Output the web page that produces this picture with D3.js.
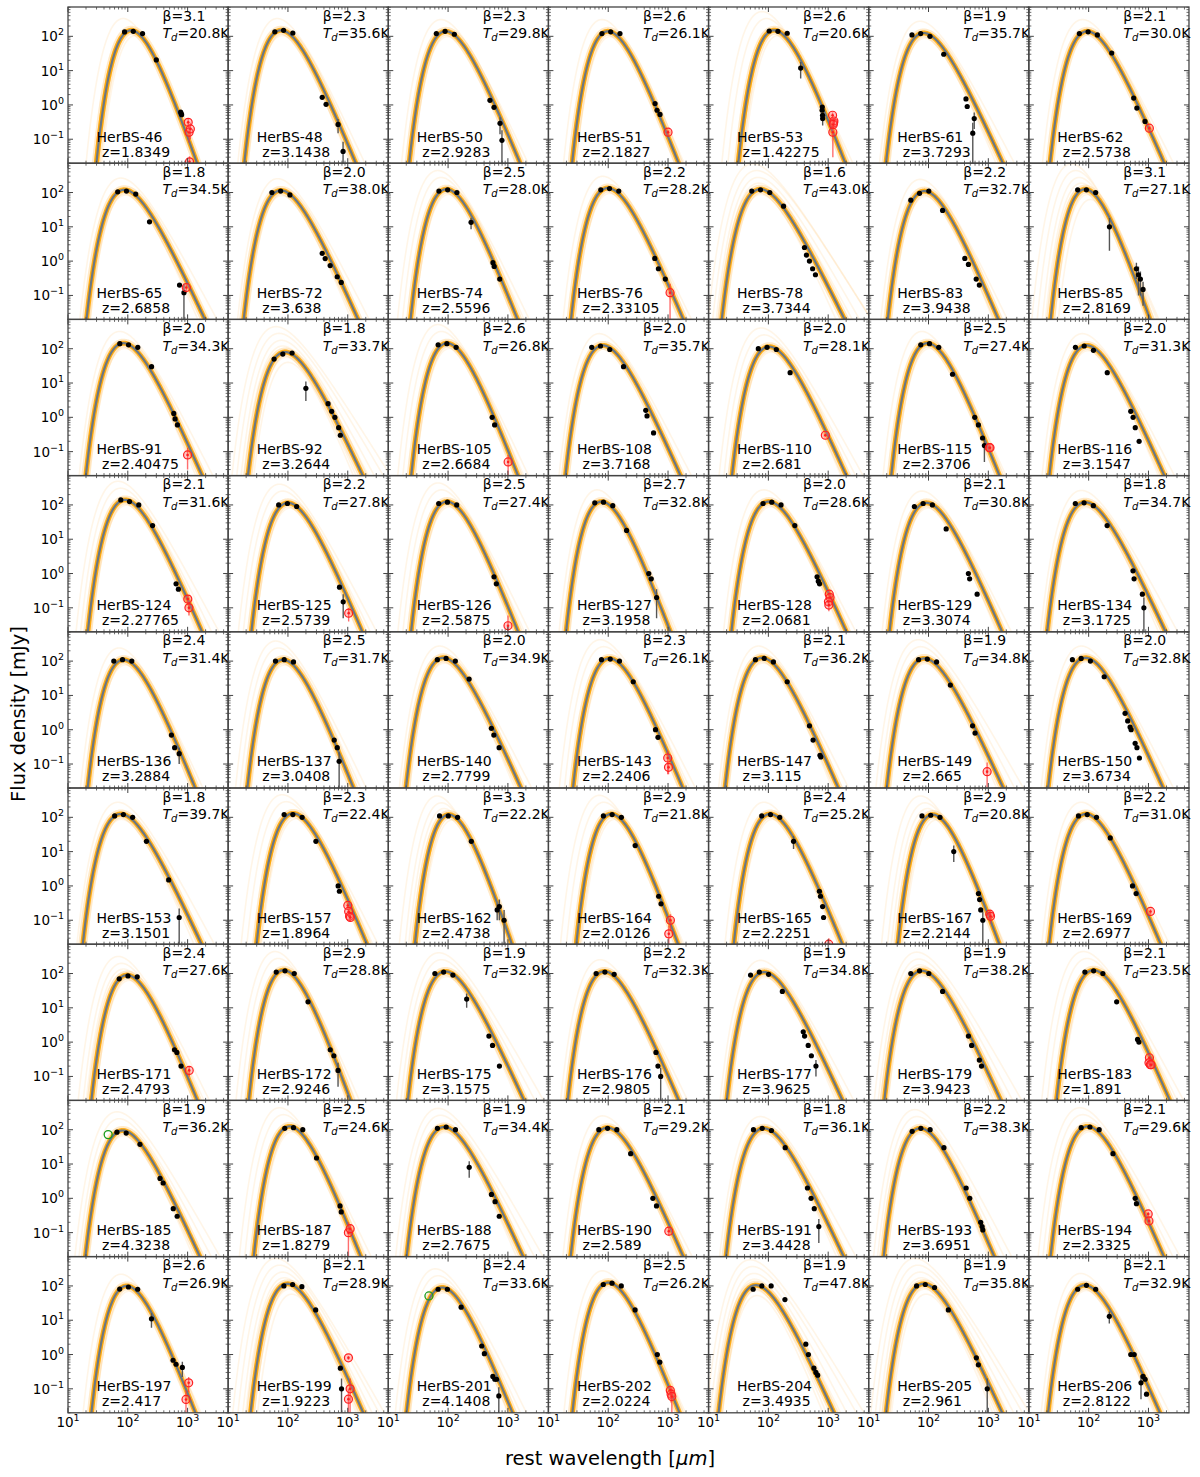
<!DOCTYPE html>
<html>
<head>
<meta charset="utf-8">
<style>
  body { margin: 0; background: #fff; }
  svg text { font-family: "DejaVu Sans", sans-serif; fill: #000; }
</style>
</head>
<body>
<svg id="fig" width="1200" height="1477"></svg>
<script src="https://cdn.jsdelivr.net/npm/d3@7/dist/d3.min.js"></script>
<script>
// ---- panel parameters ----
const names = ["HerBS-46","HerBS-48","HerBS-50","HerBS-51","HerBS-53","HerBS-61","HerBS-62",
  "HerBS-65","HerBS-72","HerBS-74","HerBS-76","HerBS-78","HerBS-83","HerBS-85",
  "HerBS-91","HerBS-92","HerBS-105","HerBS-108","HerBS-110","HerBS-115","HerBS-116",
  "HerBS-124","HerBS-125","HerBS-126","HerBS-127","HerBS-128","HerBS-129","HerBS-134",
  "HerBS-136","HerBS-137","HerBS-140","HerBS-143","HerBS-147","HerBS-149","HerBS-150",
  "HerBS-153","HerBS-157","HerBS-162","HerBS-164","HerBS-165","HerBS-167","HerBS-169",
  "HerBS-171","HerBS-172","HerBS-175","HerBS-176","HerBS-177","HerBS-179","HerBS-183",
  "HerBS-185","HerBS-187","HerBS-188","HerBS-190","HerBS-191","HerBS-193","HerBS-194",
  "HerBS-197","HerBS-199","HerBS-201","HerBS-202","HerBS-204","HerBS-205","HerBS-206"];
const redshifts = ["1.8349","3.1438","2.9283","2.1827","1.42275","3.7293","2.5738",
  "2.6858","3.638","2.5596","2.33105","3.7344","3.9438","2.8169",
  "2.40475","3.2644","2.6684","3.7168","2.681","2.3706","3.1547",
  "2.27765","2.5739","2.5875","3.1958","2.0681","3.3074","3.1725",
  "3.2884","3.0408","2.7799","2.2406","3.115","2.665","3.6734",
  "3.1501","1.8964","2.4738","2.0126","2.2251","2.2144","2.6977",
  "2.4793","2.9246","3.1575","2.9805","3.9625","3.9423","1.891",
  "4.3238","1.8279","2.7675","2.589","3.4428","3.6951","2.3325",
  "2.417","1.9223","4.1408","2.0224","3.4935","2.961","2.8122"];
const betas = [3.1,2.3,2.3,2.6,2.6,1.9,2.1, 1.8,2.0,2.5,2.2,1.6,2.2,3.1,
  2.0,1.8,2.6,2.0,2.0,2.5,2.0, 2.1,2.2,2.5,2.7,2.0,2.1,1.8,
  2.4,2.5,2.0,2.3,2.1,1.9,2.0, 1.8,2.3,3.3,2.9,2.4,2.9,2.2,
  2.4,2.9,1.9,2.2,1.9,1.9,2.1, 1.9,2.5,1.9,2.1,1.8,2.2,2.1,
  2.6,2.1,2.4,2.5,1.9,1.9,2.1];
const temps = [20.8,35.6,29.8,26.1,20.6,35.7,30.0, 34.5,38.0,28.0,28.2,43.0,32.7,27.1,
  34.3,33.7,26.8,35.7,28.1,27.4,31.3, 31.6,27.8,27.4,32.8,28.6,30.8,34.7,
  31.4,31.7,34.9,26.1,36.2,34.8,32.8, 39.7,22.4,22.2,21.8,25.2,20.8,31.0,
  27.6,28.8,32.9,32.3,34.8,38.2,23.5, 36.2,24.6,34.4,29.2,36.1,38.3,29.6,
  26.9,28.9,33.6,26.2,47.8,35.8,32.9];
// peak flux density of the best-fit curve [mJy]
const peaks = [150,150,140,140,150,125,140, 120,115,125,135,125,110,125,
  145,80,145,125,115,145,125, 140,115,125,125,125,115,120,
  110,110,125,120,125,120,125, 125,130,120,125,125,120,125,
  90,125,115,115,110,120,125, 95,125,120,115,110,110,125,
  100,115,90,125,105,115,105];
// number of faint, widely spread posterior curves to show
const spreads = [2,2,2,2,3,2,1, 2,2,3,2,5,2,6, 2,6,3,1,3,2,2,
  3,3,3,2,2,2,2, 2,3,2,3,2,3,1, 2,3,4,3,2,4,2,
  4,3,3,2,2,4,3, 3,3,3,2,2,3,3, 2,6,3,2,6,6,2];

// data points: [observed wavelength um, flux mJy, error mJy]
const blackPts = [
  [[250,134,0],[350,140,0],[500,120,0],[850,20.5,0],[2170,0.62,0],[2210,0.56,0],[2250,0.52,0]],
  [[250,135,0],[350,150,0],[500,125,0],[1550,1.66,0],[1797,1.04,0],[2854,0.27,0.12],[3460,0.044,0.04]],
  [[250,120,0],[350,140,0],[500,115,0],[1968,1.36,0],[2302,0.85,0],[2900,0.29,0.15],[3125,0.093,0.09]],
  [[250,120,0],[350,135,0],[500,120,0],[1932,1.1,0],[2085,0.7,0],[2338,0.53,0]],
  [[250,143,0],[350,140,0],[500,123,0],[840,11.9,6],[1930,0.87,0],[1920,0.7,0],[1950,0.5,0],[1960,0.4,0.15]],
  [[250,110,0],[350,120,0],[500,100,0],[850,30,0],[2000,1.5,0],[2100,0.9,0],[2750,0.4,0.2],[2600,0.15,0.15]],
  [[250,120,0],[350,135,0],[500,110,0],[869,32.6,0],[2025,1.58,0],[2285,0.81,0],[3130,0.33,0]],

  [[250,105,0],[350,110,0],[500,90,0],[850,14,0],[2700,0.2,0],[3200,0.12,0.1]],
  [[250,100,0],[350,110,0],[500,85,0],[1735,1.69,0],[1944,1.19,0],[2356,0.74,0],[3090,0.35,0],[3613,0.24,0]],
  [[250,110,0],[350,120,0],[500,100,0],[862,13.5,5],[2000,0.9,0],[2100,0.7,0],[2600,0.3,0]],
  [[250,120,0],[350,130,0],[500,110,0],[2000,1.2,0],[2300,0.6,0],[3000,0.3,0]],
  [[250,110,0],[350,120,0],[500,100,0],[850,40,0],[1900,2.5,0],[2050,1.5,0],[2300,1,0],[2600,0.6,0],[2900,0.4,0]],
  [[250,60,0],[350,95,0],[500,110,0],[850,30,0],[2000,1.2,0],[2300,0.8,0],[3100,0.3,0],[3500,0.2,0]],
  [[250,120,0],[350,120,0],[500,100,0],[850,10,8],[2400,0.6,0.3],[2600,0.4,0.3],[2800,0.3,0.2],[3100,0.15,0.1]],

  [[250,140,0],[350,130,0],[500,110,0],[850,30,0],[2000,1.3,0],[2100,0.9,0],[2300,0.6,0]],
  [[250,50,0],[350,70,0],[500,75,0],[850,7,4],[2000,2.5,0],[2300,1.5,0],[2600,1,0],[3000,0.5,0],[3200,0.3,0]],
  [[250,130,0],[350,140,0],[500,110,0],[2000,1,0],[2200,0.6,0]],
  [[250,110,0],[350,120,0],[500,95,0],[850,30,0],[2000,1.6,0],[2100,1.1,0],[2700,0.35,0]],
  [[250,100,0],[350,110,0],[500,95,0],[850,20,0]],
  [[250,130,0],[350,140,0],[500,110,0],[850,18,0],[2000,1,0],[2300,0.6,0],[2700,0.25,0],[2900,0.15,0.1]],
  [[250,110,0],[350,120,0],[500,90,0],[850,20,0],[2100,1.5,0],[2300,1,0],[2500,0.5,0],[2900,0.2,0]],

  [[250,140,0],[350,125,0],[500,100,0],[850,25,0],[2100,0.5,0],[2300,0.35,0]],
  [[250,100,0],[350,110,0],[500,90,0],[2600,0.4,0],[3000,0.15,0.1]],
  [[250,110,0],[350,120,0],[500,100,0],[2100,0.8,0],[2300,0.5,0]],
  [[250,115,0],[350,120,0],[500,95,0],[850,18,0],[2000,1.0,0],[2200,0.7,0],[2700,0.2,0.15]],
  [[250,110,0],[350,120,0],[500,100,0],[850,25,0],[2000,0.8,0],[2100,0.6,0],[2200,0.5,0]],
  [[250,90,0],[350,110,0],[500,100,0],[850,20,0],[2000,1.0,0],[2100,0.7,0],[2800,0.25,0]],
  [[250,110,0],[350,115,0],[500,95,0],[850,25,0],[2300,1.2,0],[2400,0.7,0],[3300,0.25,0],[3500,0.1,0.1]],

  [[250,100,0],[350,110,0],[500,100,0],[2300,0.7,0],[2600,0.3,0],[3100,0.2,0.1]],
  [[250,100,0],[350,110,0],[500,95,0],[2400,0.5,0],[2700,0.3,0],[2900,0.12,0.1]],
  [[250,110,0],[350,120,0],[500,100,0],[850,30,0],[2000,1.1,0],[2200,0.7,0],[2700,0.3,0]],
  [[250,110,0],[350,115,0],[500,100,0],[850,25,0],[2000,1,0],[2200,0.6,0]],
  [[250,110,0],[350,120,0],[500,95,0],[850,25,0],[2000,1.3,0],[2300,0.5,0],[3000,0.18,0],[3100,0.16,0]],
  [[250,110,0],[350,115,0],[500,95,0],[850,20,0],[2000,1.3,0],[2200,0.8,0]],
  [[250,110,0],[350,120,0],[500,100,0],[850,35,0],[1900,3,0],[2100,1.8,0],[2300,1.2,0],[2400,1,0],[2800,0.4,0],[3000,0.3,0],[3300,0.15,0]],

  [[250,110,0],[350,120,0],[500,100,0],[850,20,0],[2000,1.5,0],[3000,0.12,0.1]],
  [[250,120,0],[350,120,0],[500,100,0],[850,20,0],[2000,1.0,0],[2100,0.7,0]],
  [[250,110,0],[350,110,0],[500,100,0],[850,20,0],[2300,0.2,0.1],[2500,0.25,0.15],[3000,0.1,0.1]],
  [[250,110,0],[350,120,0],[500,100,0],[850,15,0],[2100,0.5,0],[2300,0.3,0]],
  [[250,110,0],[350,120,0],[500,100,0],[850,20,8],[2300,0.7,0],[2400,0.5,0],[2600,0.25,0],[2700,0.12,0]],
  [[250,110,0],[350,115,0],[500,100,0],[850,10,5],[2200,0.6,0],[2300,0.4,0],[2400,0.2,0],[2600,0.1,0.08]],
  [[250,110,0],[350,120,0],[500,100,0],[850,25,0],[2000,1,0],[2300,0.6,0]],

  [[250,70,0],[350,85,0],[500,80,0],[2100,0.6,0],[2300,0.5,0],[2700,0.2,0]],
  [[250,110,0],[350,120,0],[500,100,0],[850,15,0],[2000,0.6,0],[2300,0.4,0],[2700,0.15,0.1]],
  [[250,100,0],[350,110,0],[500,90,0],[850,18,8],[2000,1.5,0],[2300,0.8,0],[3000,0.2,0]],
  [[250,100,0],[350,110,0],[500,95,0],[2500,0.5,0],[2700,0.2,0],[3000,0.1,0.08]],
  [[250,90,0],[350,110,0],[500,95,0],[850,30,0],[1900,2,0],[2000,1.5,0],[2300,0.8,0],[2600,0.4,0],[3100,0.2,0.1]],
  [[250,100,0],[350,120,0],[500,100,0],[850,30,0],[2300,1.5,0],[2600,0.8,0],[3500,0.3,0],[3800,0.2,0]],
  [[250,110,0],[350,120,0],[500,100,0],[850,15,0],[1900,1.2,0],[2000,1,0]],

  [[350,85,0],[500,80,0],[850,37.5,0],[1840,3.8,0],[2075,2.8,0],[3060,0.5,0],[3560,0.3,0]],
  [[250,110,0],[350,115,0],[500,100,0],[850,15,0],[2100,0.6,0],[2200,0.4,0]],
  [[250,110,0],[350,120,0],[500,100,0],[850,8,4],[2000,1.3,0],[2300,0.8,0],[2700,0.3,0]],
  [[250,100,0],[350,110,0],[500,100,0],[850,20,0],[2000,1,0],[2300,0.6,0]],
  [[250,100,0],[350,110,0],[500,95,0],[850,30,0],[2000,2,0],[2300,1,0],[2600,0.5,0],[3100,0.15,0.1]],
  [[250,90,0],[350,110,0],[500,100,0],[850,30,0],[2000,2,0],[2300,1,0],[3500,0.2,0],[3700,0.15,0],[3800,0.12,0]],
  [[250,115,0],[350,120,0],[500,100,0],[850,20,0],[2000,1,0],[2100,0.7,0]],

  [[250,81,0],[350,93,0],[500,80,0],[850,11,5],[1950,0.68,0],[2190,0.52,0],[2790,0.42,0.2]],
  [[250,100,0],[350,110,0],[500,95,0],[850,20,0],[2200,0.4,0],[2300,0.1,0.1]],
  [[350,80,0],[500,80,0],[850,24,0],[1875,1.77,0],[2077,1.06,0],[2880,0.23,0],[3110,0.19,0],[3315,0.19,0],[3625,0.062,0.05]],
  [[250,110,0],[350,120,0],[500,100,0],[850,20,0],[2000,1,0],[2200,0.6,0]],
  [[250,80,0],[350,100,0],[500,100,0],[850,40,0],[1900,2,0],[2100,1,0],[2600,0.4,0],[2800,0.3,0],[3000,0.25,0]],
  [[250,100,0],[350,110,0],[500,90,0],[850,20,0],[2500,0.8,0],[2700,0.5,0],[3800,0.1,0.1]],
  [[250,80,0],[350,104,0],[500,80,0],[845,13,5],[1930,1.0,0],[2200,1.0,0],[3100,0.23,0],[3350,0.19,0],[2860,0.15,0.1],[3540,0.07,0]]
];
const redPts = [
  [[2900,0.31,0.1],[3000,0.16,0.08],[3150,0.2,0.1],[3050,0.022,0.01]],
  [],[],[[3183,0.16,0.03]],
  [[2870,0.5,0.1],[2990,0.3,0.08],[3020,0.34,0.08],[2950,0.27,0.07],[2900,0.16,0.13]],
  [],[[3700,0.21,0.03]],
  [[3500,0.17,0.05]],[],[],[[3600,0.12,0.1]],[],[],[],
  [[3400,0.08,0.05]],[],[[3700,0.05,0.03]],[],[[3300,0.3,0.03]],[[3500,0.13,0.03],[3600,0.13,0.03]],[],
  [[3300,0.18,0.05],[3450,0.1,0.04]],[[3700,0.07,0.03]],[[3600,0.03,0.03]],[],
  [[3200,0.25,0.05],[3300,0.2,0.05],[3100,0.15,0.04],[3150,0.12,0.04]],[],[],
  [],[],[],[[3200,0.15,0.1],[3300,0.08,0.03]],[],[[3500,0.06,0.05]],[],
  [],[[2900,0.27,0.05],[3000,0.18,0.04],[3100,0.13,0.03],[3200,0.12,0.03]],[],
  [[3300,0.1,0.05],[3100,0.04,0.03]],[[3300,0.02,0.01]],[[3400,0.15,0.05],[3500,0.13,0.05]],[[4000,0.18,0.03]],
  [[3700,0.15,0.05]],[],[],[],[],[],[[3000,0.35,0.05],[2950,0.25,0.05],[3100,0.22,0.05],[3200,0.22,0.05]],
  [],[[2900,0.1,0.1],[3100,0.13,0.04]],[],[[3700,0.11,0.03]],[],[],[[3300,0.35,0.05],[3400,0.22,0.05]],
  [[3560,0.15,0.07],[3210,0.049,0.04]],[[3000,0.8,0.1],[3200,0.1,0.1],[3000,0.05,0.05]],[],
  [[3300,0.09,0.03],[3400,0.07,0.03],[3500,0.06,0.05]],[],[],[]
];
// open green circles: [observed wavelength um, flux mJy], keyed by panel index
const greenPts = { 49: [[250,72]], 58: [[246,51]] };

const xTicks = [10, 100, 1000];
const yTicks = [0.1, 1, 10, 100];
// faint posterior draws: [dT K, d beta, flux scale]
const wideSamples = [[10,-0.5,2.2],[-4,0.4,0.7],[18,-0.8,3.5],[6,-0.3,1.5],[28,-1.0,5.5],[-7,0.6,0.5]];
const bandSamples = [[-1.2,0.08],[1.2,-0.08],[-0.6,0.04],[0.6,-0.04]];

// ---- layout ----
const ncol = 7, nrow = 9;
const padL = 68, padT = 7, pw = 160.14, ph = 156.2;
const x = d3.scaleLog().domain([10, 4760]).range([0, pw]);
const y = d3.scaleLog().domain([0.02, 716]).range([ph, 0]);

const svg = d3.select("#fig");
const grid = d3.range(0, 321).map(i => 10 ** (1 + i * 2.7 / 320));

function sed(lam, T, b) {
  return Math.pow(lam, -(3 + b)) / Math.expm1(14388 / (lam * T));
}
function curve(T, b, peak) {
  const vals = grid.map(l => sed(l, T, b));
  const m = d3.max(vals);
  return grid.map((l, i) => [l, Math.max(1e-8, vals[i] / m * peak)]);
}
const line = d3.line().x(d => x(d[0])).y(d => y(d[1]));

const defs = svg.append("defs");
defs.append("clipPath").attr("id", "pclip")
  .append("rect").attr("width", pw).attr("height", ph);

function supTick(sel, v) {
  const e = Math.round(Math.log10(v));
  sel.text("10");
  sel.append("tspan").attr("dy", -6).attr("font-size", 9.5)
    .text(e < 0 ? "\u2212" + (-e) : e);
}

names.forEach((nm, i) => {
  const c = i % ncol, r = Math.floor(i / ncol);
  const g = svg.append("g").attr("transform", `translate(${padL + c * pw},${padT + r * ph})`);
  const T = temps[i], b = betas[i], pk = peaks[i];
  const zz = 1 + (+redshifts[i]);
  const plot = g.append("g").attr("clip-path", "url(#pclip)");

  // faint spread of posterior curves
  wideSamples.slice(0, spreads[i]).forEach(s => {
    plot.append("path").datum(curve(T + s[0], Math.max(0.8, b + s[1]), pk * s[2]))
      .attr("d", line).attr("fill", "none")
      .attr("stroke", "#ffb347").attr("stroke-opacity", 0.13).attr("stroke-width", 1.6);
  });
  // dense band
  const best = curve(T, b, pk);
  plot.append("path").datum(best).attr("d", line).attr("fill", "none")
    .attr("stroke", "#ffc266").attr("stroke-opacity", 0.35).attr("stroke-width", 9);
  bandSamples.forEach(s => {
    plot.append("path").datum(curve(T + s[0], b + s[1], pk)).attr("d", line).attr("fill", "none")
      .attr("stroke", "#ffa500").attr("stroke-opacity", 0.45).attr("stroke-width", 2.5);
  });
  plot.append("path").datum(best).attr("d", line).attr("fill", "none")
    .attr("stroke", "#ffa500").attr("stroke-opacity", 0.85).attr("stroke-width", 5);
  plot.append("path").datum(best).attr("d", line).attr("fill", "none")
    .attr("stroke", "#6a7784").attr("stroke-width", 2.2);

  // error bars + points
  const errY = (f, e) => [y(Math.max(0.005, f - e)), y(f + e)];
  blackPts[i].forEach(p => {
    const px = x(p[0] / zz);
    if (p[2] > 0) {
      const [y1, y2] = errY(p[1], p[2]);
      plot.append("line").attr("x1", px).attr("x2", px).attr("y1", y1).attr("y2", y2)
        .attr("stroke", "#555").attr("stroke-width", 1.4);
    }
  });
  redPts[i].forEach(p => {
    const px = x(p[0] / zz);
    if (p[2] > 0) {
      const [y1, y2] = errY(p[1], p[2]);
      plot.append("line").attr("x1", px).attr("x2", px).attr("y1", y1).attr("y2", y2)
        .attr("stroke", "#ff3030").attr("stroke-opacity", 0.7).attr("stroke-width", 1.4);
    }
  });
  blackPts[i].forEach(p => {
    plot.append("circle").attr("cx", x(p[0] / zz)).attr("cy", y(p[1])).attr("r", 2.6).attr("fill", "#000");
  });
  redPts[i].forEach(p => {
    const px = x(p[0] / zz), py = y(p[1]);
    plot.append("circle").attr("cx", px).attr("cy", py).attr("r", 4)
      .attr("fill", "#ff6060").attr("fill-opacity", 0.35).attr("stroke", "#ff2020").attr("stroke-width", 1.2);
    plot.append("circle").attr("cx", px).attr("cy", py).attr("r", 1.3).attr("fill", "#ff2020");
  });
  (greenPts[i] || []).forEach(p => {
    plot.append("circle").attr("cx", x(p[0] / zz)).attr("cy", y(p[1])).attr("r", 4)
      .attr("fill", "none").attr("stroke", "#1a9a1a").attr("stroke-width", 1.3);
  });

  // frame + inward ticks on all sides
  const ax = g.append("g").attr("stroke", "#444");
  const minorX = [], minorY = [];
  [10, 100, 1000].forEach(d => d3.range(2, 10).forEach(k => { if (d * k < 4760) minorX.push(d * k); }));
  [0.01, 0.1, 1, 10, 100].forEach(d => d3.range(2, 10).forEach(k => {
    const v = d * k; if (v >= 0.02 && v <= 716) minorY.push(v); }));
  xTicks.forEach(v => {
    ax.append("line").attr("x1", x(v)).attr("x2", x(v)).attr("y1", ph).attr("y2", ph - 5);
    ax.append("line").attr("x1", x(v)).attr("x2", x(v)).attr("y1", 0).attr("y2", 5);
  });
  minorX.forEach(v => {
    ax.append("line").attr("x1", x(v)).attr("x2", x(v)).attr("y1", ph).attr("y2", ph - 2.5).attr("stroke-width", 0.8);
    ax.append("line").attr("x1", x(v)).attr("x2", x(v)).attr("y1", 0).attr("y2", 2.5).attr("stroke-width", 0.8);
  });
  yTicks.forEach(v => {
    ax.append("line").attr("x1", 0).attr("x2", 5).attr("y1", y(v)).attr("y2", y(v));
    ax.append("line").attr("x1", pw).attr("x2", pw - 5).attr("y1", y(v)).attr("y2", y(v));
  });
  minorY.forEach(v => {
    ax.append("line").attr("x1", 0).attr("x2", 2.5).attr("y1", y(v)).attr("y2", y(v)).attr("stroke-width", 0.8);
    ax.append("line").attr("x1", pw).attr("x2", pw - 2.5).attr("y1", y(v)).attr("y2", y(v)).attr("stroke-width", 0.8);
  });
  ax.append("rect").attr("width", pw).attr("height", ph).attr("fill", "none").attr("stroke-width", 1.3);

  // labels
  g.append("text").attr("x", 94.5).attr("y", 13.7).attr("font-size", 14).text(`\u03b2=${b.toFixed(1)}`);
  const tt = g.append("text").attr("x", 94.5).attr("y", 31.3).attr("font-size", 14);
  tt.append("tspan").attr("font-style", "italic").text("T");
  tt.append("tspan").attr("font-style", "italic").attr("font-size", 10).attr("dy", 3).text("d");
  tt.append("tspan").attr("dy", -3).text(`=${T.toFixed(1)}K`);
  g.append("text").attr("x", 28.5).attr("y", 134.7).attr("font-size", 14).text(nm);
  g.append("text").attr("x", 34).attr("y", 149.7).attr("font-size", 14).text(`z=${redshifts[i]}`);

  if (c === 0) {
    yTicks.forEach(v => {
      g.append("text").attr("x", -4).attr("y", y(v) + 5).attr("text-anchor", "end")
        .attr("font-size", 13.5).call(supTick, v);
    });
  }
  if (r === nrow - 1) {
    xTicks.forEach(v => {
      g.append("text").attr("x", x(v)).attr("y", ph + 14).attr("text-anchor", "middle")
        .attr("font-size", 13.5).call(supTick, v);
    });
  }
});

svg.append("text").attr("transform", "translate(25,714) rotate(-90)").attr("text-anchor", "middle")
  .attr("font-size", 19.5).text("Flux density [mJy]");
const xl = svg.append("text").attr("x", 610).attr("y", 1465).attr("text-anchor", "middle").attr("font-size", 19.5);
xl.append("tspan").text("rest wavelength [");
xl.append("tspan").attr("font-style", "italic").text("\u03bcm");
xl.append("tspan").text("]");
</script>
</body>
</html>
